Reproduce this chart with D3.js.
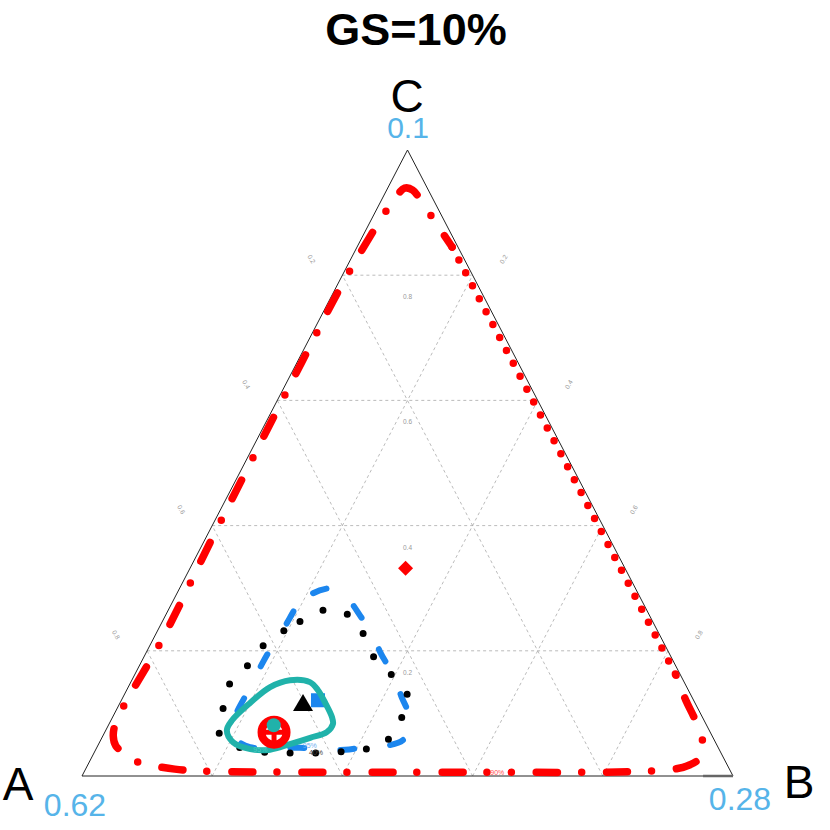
<!DOCTYPE html>
<html>
<head>
<meta charset="utf-8">
<script src="https://cdn.jsdelivr.net/npm/d3@7"></script>
<style>
body { margin: 0; background: #fff; }
text { font-family: "Liberation Sans", Arial, sans-serif; }
</style>
</head>
<body>
<div id="chart"></div>
<script>
// all compositions are [A, B, C]
var gridValues = [0.2, 0.4, 0.6, 0.8];
var gridLabels = ["0.2", "0.4", "0.6", "0.8"];
var cornerNames = ["A", "B", "C"];
var cornerValues = ["0.62", "0.28", "0.1"];
var title = "GS=10%";

// red outer contour, broken at its label: right-hand piece
var redOuterA = [
    [0.007, 0.832, 0.161], [0.012, 0.867, 0.121], [0.013, 0.894, 0.093], [0.016, 0.915, 0.069],
    [0.021, 0.929, 0.050], [0.036, 0.935, 0.029], [0.057, 0.925, 0.018], [0.084, 0.905, 0.011],
    [0.123, 0.869, 0.008], [0.202, 0.792, 0.006], [0.343, 0.651, 0.006]
];
// left-hand piece, round the A corner and over the apex
var redOuterB = [
    [0.375, 0.619, 0.006], [0.509, 0.485, 0.006],
    [0.662, 0.332, 0.006], [0.815, 0.177, 0.008], [0.852, 0.137, 0.011], [0.880, 0.104, 0.016],
    [0.903, 0.075, 0.022], [0.915, 0.051, 0.034], [0.924, 0.028, 0.048], [0.920, 0.016, 0.064],
    [0.905, 0.009, 0.086], [0.862, 0.009, 0.129], [0.767, 0.014, 0.219], [0.605, 0.010, 0.385],
    [0.332, 0.007, 0.661], [0.205, 0.007, 0.788], [0.098, 0.014, 0.888], [0.061, 0.019, 0.920],
    [0.035, 0.026, 0.939], [0.024, 0.040, 0.936], [0.019, 0.070, 0.911], [0.009, 0.146, 0.845]
];
// dotted right side
var redOuterRight = [
    [0.009, 0.146, 0.845], [0.007, 0.487, 0.506], [0.007, 0.790, 0.203], [0.007, 0.832, 0.161]
];
var blueContour = [
    [0.532, 0.195, 0.273], [0.499, 0.209, 0.292], [0.469, 0.231, 0.300], [0.452, 0.251, 0.297],
    [0.447, 0.280, 0.273], [0.444, 0.304, 0.252], [0.440, 0.330, 0.230], [0.443, 0.359, 0.198],
    [0.442, 0.381, 0.177], [0.441, 0.402, 0.157], [0.446, 0.428, 0.126], [0.448, 0.450, 0.102],
    [0.457, 0.465, 0.078], [0.473, 0.466, 0.061], [0.488, 0.459, 0.053], [0.511, 0.441, 0.048],
    [0.542, 0.412, 0.046], [0.575, 0.383, 0.042], [0.609, 0.349, 0.042], [0.643, 0.312, 0.045],
    [0.673, 0.282, 0.045], [0.719, 0.235, 0.046], [0.732, 0.212, 0.056], [0.729, 0.193, 0.078],
    [0.711, 0.187, 0.102], [0.687, 0.187, 0.126], [0.655, 0.187, 0.158], [0.634, 0.187, 0.179],
    [0.611, 0.188, 0.201], [0.578, 0.192, 0.230], [0.555, 0.193, 0.252]
];
var blackContour = [
    [0.529, 0.219, 0.252], [0.574, 0.194, 0.232], [0.618, 0.174, 0.208], [0.658, 0.166, 0.176],
    [0.702, 0.153, 0.145], [0.730, 0.163, 0.107], [0.755, 0.176, 0.069], [0.749, 0.197, 0.054],
    [0.717, 0.243, 0.040], [0.680, 0.283, 0.037], [0.639, 0.324, 0.037], [0.599, 0.364, 0.037],
    [0.558, 0.400, 0.042], [0.515, 0.437, 0.048], [0.477, 0.442, 0.081], [0.439, 0.444, 0.117],
    [0.438, 0.410, 0.152], [0.456, 0.365, 0.179], [0.455, 0.331, 0.214], [0.457, 0.292, 0.251],
    [0.484, 0.249, 0.267]
];
var tealContour = [
    [0.604, 0.243, 0.153], [0.575, 0.275, 0.150], [0.569, 0.294, 0.137], [0.568, 0.315, 0.117],
    [0.569, 0.337, 0.094], [0.573, 0.344, 0.083], [0.589, 0.341, 0.070], [0.619, 0.320, 0.061],
    [0.655, 0.294, 0.051], [0.690, 0.268, 0.042], [0.720, 0.237, 0.043], [0.741, 0.205, 0.054],
    [0.741, 0.186, 0.073], [0.725, 0.186, 0.089], [0.683, 0.200, 0.117], [0.640, 0.218, 0.142]
];
var baseSegment = [[0.046, 0.954, 0], [0, 1, 0]];

var centrePoint = [0.337, 0.331, 0.332];
var squarePoint = [0.577, 0.302, 0.121];
var trianglePoint = [0.603, 0.282, 0.115];
var crossPoint = [0.670, 0.260, 0.070];
var tealPoint = [0.665, 0.254, 0.081];

var contourLabelText = ["90%", "95%", "95%", "40%"];
var contourLabelPos = [[0.359, 0.635, 0.006], [0.705, 0.253, 0.042], [0.626, 0.326, 0.048], [0.622, 0.341, 0.037]];

function init() {
    var w = 830;
    var h = 830;
    var left = 82, right = 733, bottom = 776, top = 150;

    // b + c/2 runs along the base, c runs up to the apex
    var xScale = d3.scaleLinear().domain([0, 1]).range([left, right]);
    var yScale = d3.scaleLinear().domain([0, 1]).range([bottom, top]);
    function px(p) { return [xScale(p[1] + p[2] / 2), yScale(p[2])]; }

    var line = d3.line().x(function(d) { return px(d)[0]; }).y(function(d) { return px(d)[1]; });

    var svg = d3.select("#chart").append("svg")
        .attr("width", w)
        .attr("height", h);

    svg.append("text")
        .attr("x", 416).attr("y", 45)
        .attr("text-anchor", "middle")
        .style("font-size", "45px").style("font-weight", "bold")
        .text(title);

    // grid
    var grid = svg.append("g");
    gridValues.forEach(function(v, i) {
        var segs = [
            [[1 - v, 0, v], [0, 1 - v, v]],
            [[v, 1 - v, 0], [v, 0, 1 - v]],
            [[1 - v, v, 0], [0, v, 1 - v]]
        ];
        segs.forEach(function(s) {
            grid.append("path").attr("d", line(s))
                .attr("fill", "none").attr("stroke", "#aaa")
                .attr("stroke-width", 0.8).attr("stroke-dasharray", "3,3");
        });
        var pc = px([(1 - v) / 2, (1 - v) / 2, v]);
        grid.append("text").attr("x", pc[0]).attr("y", pc[1] + 24)
            .attr("text-anchor", "middle").attr("fill", "#999")
            .style("font-size", "6.5px").text(gridLabels[i]);
        var pl = px([v, 0, 1 - v]);
        grid.append("text")
            .attr("transform", "translate(" + (pl[0] - 31) + "," + (pl[1] - 16) + ") rotate(60)")
            .attr("text-anchor", "middle").attr("dy", "0.35em").attr("fill", "#999")
            .style("font-size", "6.5px").text(gridLabels[i]);
        var pr = px([0, v, 1 - v]);
        grid.append("text")
            .attr("transform", "translate(" + (pr[0] + 31) + "," + (pr[1] - 16) + ") rotate(-60)")
            .attr("text-anchor", "middle").attr("dy", "0.35em").attr("fill", "#999")
            .style("font-size", "6.5px").text(gridLabels[i]);
    });

    // triangle
    svg.append("path")
        .attr("d", line([[1, 0, 0], [0, 1, 0], [0, 0, 1]]) + "Z")
        .attr("fill", "none").attr("stroke", "#222").attr("stroke-width", 1);
    svg.append("path").attr("d", line(baseSegment))
        .attr("stroke", "#666").attr("stroke-width", 2.5);

    // red outer contour
    [redOuterA, redOuterB].forEach(function(piece) {
        svg.append("path")
            .attr("d", line.curve(d3.curveCatmullRom)(piece))
            .attr("fill", "none").attr("stroke", "red").attr("stroke-width", 7.5)
            .attr("stroke-linecap", "round")
            .attr("stroke-dasharray", "21,25,0,24").attr("stroke-dashoffset", 46);
    });
    svg.append("path")
        .attr("d", line.curve(d3.curveLinear)(redOuterRight))
        .attr("fill", "none").attr("stroke", "red").attr("stroke-width", 7.5)
        .attr("stroke-linecap", "round")
        .attr("stroke-dasharray", "0,14.6");

    var pd = px(centrePoint);
    svg.append("path")
        .attr("d", "M" + pd[0] + "," + (pd[1] - 7.5) + "l7.5,7.5l-7.5,7.5l-7.5,-7.5Z")
        .attr("fill", "red");

    // blue contour
    svg.append("path")
        .attr("d", line.curve(d3.curveCatmullRomClosed)(blueContour))
        .attr("fill", "none").attr("stroke", "#1C86EE").attr("stroke-width", 6)
        .attr("stroke-linecap", "round").attr("stroke-dasharray", "14,36");
    var ps = px(squarePoint);
    svg.append("rect")
        .attr("x", ps[0] - 7).attr("y", ps[1] - 7).attr("width", 14).attr("height", 14)
        .attr("fill", "#1C86EE");

    // black dotted contour
    svg.append("path")
        .attr("d", line.curve(d3.curveCatmullRomClosed)(blackContour))
        .attr("fill", "none").attr("stroke", "black").attr("stroke-width", 7)
        .attr("stroke-linecap", "round").attr("stroke-dasharray", "0,25.5");
    var pt = px(trianglePoint);
    svg.append("path")
        .attr("d", "M" + pt[0] + "," + (pt[1] - 10) + "l10,17h-20Z")
        .attr("fill", "black");

    // teal contour
    svg.append("path")
        .attr("d", line.curve(d3.curveCatmullRomClosed)(tealContour))
        .attr("fill", "none").attr("stroke", "#20B2AA").attr("stroke-width", 6);

    // red circle plus, teal point on top
    var pc2 = px(crossPoint);
    var cross = svg.append("g").attr("transform", "translate(" + pc2[0] + "," + pc2[1] + ")");
    cross.append("circle").attr("r", 12.5).attr("fill", "white")
        .attr("stroke", "red").attr("stroke-width", 8);
    cross.append("path").attr("d", "M-12.5,0H12.5M0,-12.5V12.5")
        .attr("stroke", "red").attr("stroke-width", 5);
    var pp = px(tealPoint);
    svg.append("circle").attr("cx", pp[0]).attr("cy", pp[1]).attr("r", 7)
        .attr("fill", "#20B2AA");

    // contour labels
    var labelColours = ["#ff4d4d", "#4fc9c0", "#6fb0f0", "#444"];
    contourLabelText.forEach(function(t, i) {
        var p = px(contourLabelPos[i]);
        svg.append("text").attr("x", p[0]).attr("y", p[1])
            .attr("text-anchor", "middle").attr("dy", "0.35em")
            .attr("fill", labelColours[i]).style("font-size", "7px").text(t);
    });

    // corner labels
    var corners = [
        { name: [18, 800], value: [75, 816], size: 32 },
        { name: [799, 798], value: [740, 810], size: 32 },
        { name: [407, 112], value: [408, 138], size: 30 }
    ];
    corners.forEach(function(c, i) {
        svg.append("text").attr("x", c.name[0]).attr("y", c.name[1])
            .attr("text-anchor", "middle").style("font-size", "46px")
            .text(cornerNames[i]);
        svg.append("text").attr("x", c.value[0]).attr("y", c.value[1])
            .attr("text-anchor", "middle").attr("fill", "#56B4E9")
            .style("font-size", c.size + "px").text(cornerValues[i]);
    });
}

window.onload = init;
</script>
</body>
</html>
